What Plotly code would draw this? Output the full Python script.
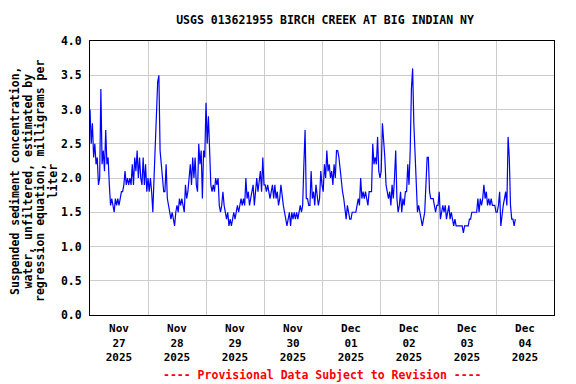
import pandas as pd
import plotly.graph_objects as go

# 30-minute estimated values, per day (mg/L)
nov27 = [3.0, 2.5, 2.8, 2.3, 2.5, 2.2, 2.3, 1.9, 2.0, 3.3, 2.2, 2.4, 2.1, 2.7, 2.2, 2.3,
         1.9, 1.6, 1.7, 1.6, 1.5, 1.7, 1.6, 1.7, 1.6, 1.7, 1.8, 1.8, 1.9, 2.1, 1.9, 2.0,
         1.9, 2.0, 1.9, 2.2, 1.9, 2.3, 2.1, 2.4, 2.0, 2.3, 2.0, 1.9, 2.3, 1.9, 2.2, 1.8]
nov28 = [2.0, 1.8, 2.0, 1.8, 1.5, 2.0, 2.5, 2.9, 3.4, 3.5, 2.4, 2.2, 2.0, 1.8, 1.8, 2.2,
         1.7, 1.6, 1.5, 1.4, 1.5, 1.4, 1.3, 1.5, 1.6, 1.5, 1.7, 1.6, 1.7, 1.6, 1.5, 1.9,
         1.7, 1.8, 2.0, 2.2, 1.9, 2.3, 2.0, 2.3, 1.9, 1.8, 2.5, 2.2, 2.4, 1.7, 2.4, 2.3]
nov29 = [3.1, 2.5, 2.9, 2.2, 1.9, 1.8, 1.9, 1.8, 2.0, 1.9, 2.0, 1.6, 1.5, 1.6, 1.8, 1.6,
         1.5, 1.4, 1.5, 1.3, 1.4, 1.3, 1.4, 1.5, 1.4, 1.5, 1.6, 1.5, 1.6, 1.7, 1.6, 1.7,
         1.6, 2.0, 1.7, 1.8, 1.6, 1.7, 1.8, 1.9, 1.6, 1.8, 2.0, 1.8, 2.0, 2.1, 1.8, 2.3]
nov30 = [1.9, 1.9, 1.8, 1.9, 1.8, 1.7, 1.8, 1.9, 1.7, 1.9, 1.7, 1.8, 1.6, 1.7, 1.9, 1.7,
         1.6, 1.5, 1.4, 1.3, 1.4, 1.5, 1.3, 1.5, 1.4, 1.5, 1.4, 1.5, 1.4, 1.5, 1.6, 1.5,
         1.6, 2.2, 2.7, 1.7, 1.7, 1.6, 1.6, 2.1, 1.7, 1.8, 1.6, 1.9, 1.7, 1.6, 1.7, 2.1]
dec01 = [1.9, 1.8, 2.2, 2.0, 2.4, 2.1, 2.2, 2.0, 2.1, 1.9, 2.2, 2.0, 2.4, 2.4, 2.3, 2.1,
         1.9, 1.8, 1.7, 1.5, 1.4, 1.6, 1.5, 1.4, 1.4, 1.5, 1.5, 1.5, 1.5, 1.6, 1.7, 1.6,
         2.0, 1.7, 1.8, 1.7, 1.8, 1.7, 1.6, 1.8, 1.8, 1.8, 2.5, 2.2, 2.3, 2.2, 2.6, 2.1]
dec02 = [2.0, 2.1, 2.8, 2.6, 2.3, 1.9, 1.8, 1.7, 1.8, 1.6, 1.9, 1.7, 2.0, 2.4, 1.7, 1.5,
         1.6, 1.8, 1.5, 1.7, 1.6, 1.8, 1.8, 2.2, 1.9, 2.4, 3.3, 3.6, 2.8, 2.3, 1.7, 1.5,
         1.6, 1.5, 1.4, 1.3, 1.4, 1.5, 1.9, 2.3, 2.3, 1.8, 1.7, 1.7, 1.7, 1.6, 1.5, 1.6]
dec03 = [1.6, 1.8, 1.4, 1.5, 1.6, 1.5, 1.6, 1.4, 1.5, 1.6, 1.4, 1.5, 1.4, 1.3, 1.4, 1.3,
         1.3, 1.3, 1.3, 1.3, 1.3, 1.2, 1.3, 1.3, 1.3, 1.3, 1.4, 1.4, 1.5, 1.5, 1.5, 1.5,
         1.5, 1.7, 1.5, 1.7, 1.6, 1.7, 1.9, 1.7, 1.8, 1.6, 1.7, 1.6, 1.7, 1.6, 1.6, 1.6]
dec04 = [1.5, 1.5, 1.6, 1.8, 1.3, 1.5, 1.6, 1.7, 1.8, 1.6, 2.6, 2.3, 1.6, 1.4, 1.4, 1.3, 1.4]

values = nov27 + nov28 + nov29 + nov30 + dec01 + dec02 + dec03 + dec04
times = pd.date_range("2025-11-27 00:00", periods=len(values), freq="30min")

title_text = "USGS 013621955 BIRCH CREEK AT BIG INDIAN NY"
y_title_lines = ["Suspended sediment concentration,", "water, unfiltered, estimated by",
                 "regression equation, milligrams per", "liter"]
footer = "---- Provisional Data Subject to Revision ----"
x_start, x_end = "2025-11-27 00:00", "2025-12-05 00:00"

FONT = "DejaVu Sans Mono"

# page has an 8px body margin, so the figure is sized to fit inside it
W, H = 568, 376
ML, MR, MT, MB = 82, 22, 33, 69
PW, PH = W - ML - MR, H - MT - MB

fig = go.Figure()
fig.add_trace(go.Scatter(x=times, y=values, mode="lines",
                         line=dict(color="#0000FF", width=1.2), hoverinfo="skip"))

fig.update_layout(
    width=W, height=H,
    margin=dict(l=ML, r=MR, t=MT, b=MB, autoexpand=False),
    paper_bgcolor="white", plot_bgcolor="white",
    showlegend=False,
    font=dict(family=FONT, size=11, color="black"),
    title=dict(text="<b>" + title_text + "</b>", x=0.5 + 3 / PW, xref="paper",
               xanchor="center", y=1 - 12 / H, yref="container", yanchor="middle",
               font=dict(family=FONT, size=11.5, color="black")),
)
fig.update_xaxes(
    type="date", range=[x_start, x_end], automargin=False,
    dtick=86400000, tick0="2025-11-27", ticklabelmode="period",
    tickformat="<b>%b</b><br><b>%d</b><br><b>%Y</b>",
    showgrid=True, gridcolor="#cccccc", gridwidth=1,
    showline=True, linecolor="black", linewidth=1, mirror=True,
    ticks="outside", ticklen=3, tickcolor="rgba(0,0,0,0)",
    tickfont=dict(family=FONT, size=11, color="black"),
    zeroline=False,
)
fig.update_yaxes(
    range=[0, 4], dtick=0.5, tick0=0, tickformat=".1f", automargin=False,
    showgrid=True, gridcolor="#cccccc", gridwidth=1,
    showline=True, linecolor="black", linewidth=1, mirror=True,
    ticks="outside", ticklen=5, tickcolor="rgba(0,0,0,0)",
    tickfont=dict(family=FONT, size=11.5, color="black"),
    tickprefix="<b>", ticksuffix="</b>",
    zeroline=False,
)
# y-axis title, one rotated line each (tighter line spacing than plotly's <br>)
line_x = [7, 19.5, 32, 44.5]  # centres in figure pixels
for txt, fx in zip(y_title_lines, line_x):
    fig.add_annotation(text="<b>" + txt + "</b>", xref="paper", yref="paper",
                       x=(fx - ML) / PW, y=1 - (173 - MT) / PH, xanchor="center",
                       yanchor="middle", textangle=-90, showarrow=False,
                       font=dict(family=FONT, size=11.5, color="black"))
fig.add_annotation(text="<b>" + footer + "</b>", xref="paper", yref="paper",
                   x=0.5, y=-60 / PH, xanchor="center", yanchor="middle", showarrow=False,
                   font=dict(family=FONT, size=11.5, color="red"))

fig.write_html("out.html")
